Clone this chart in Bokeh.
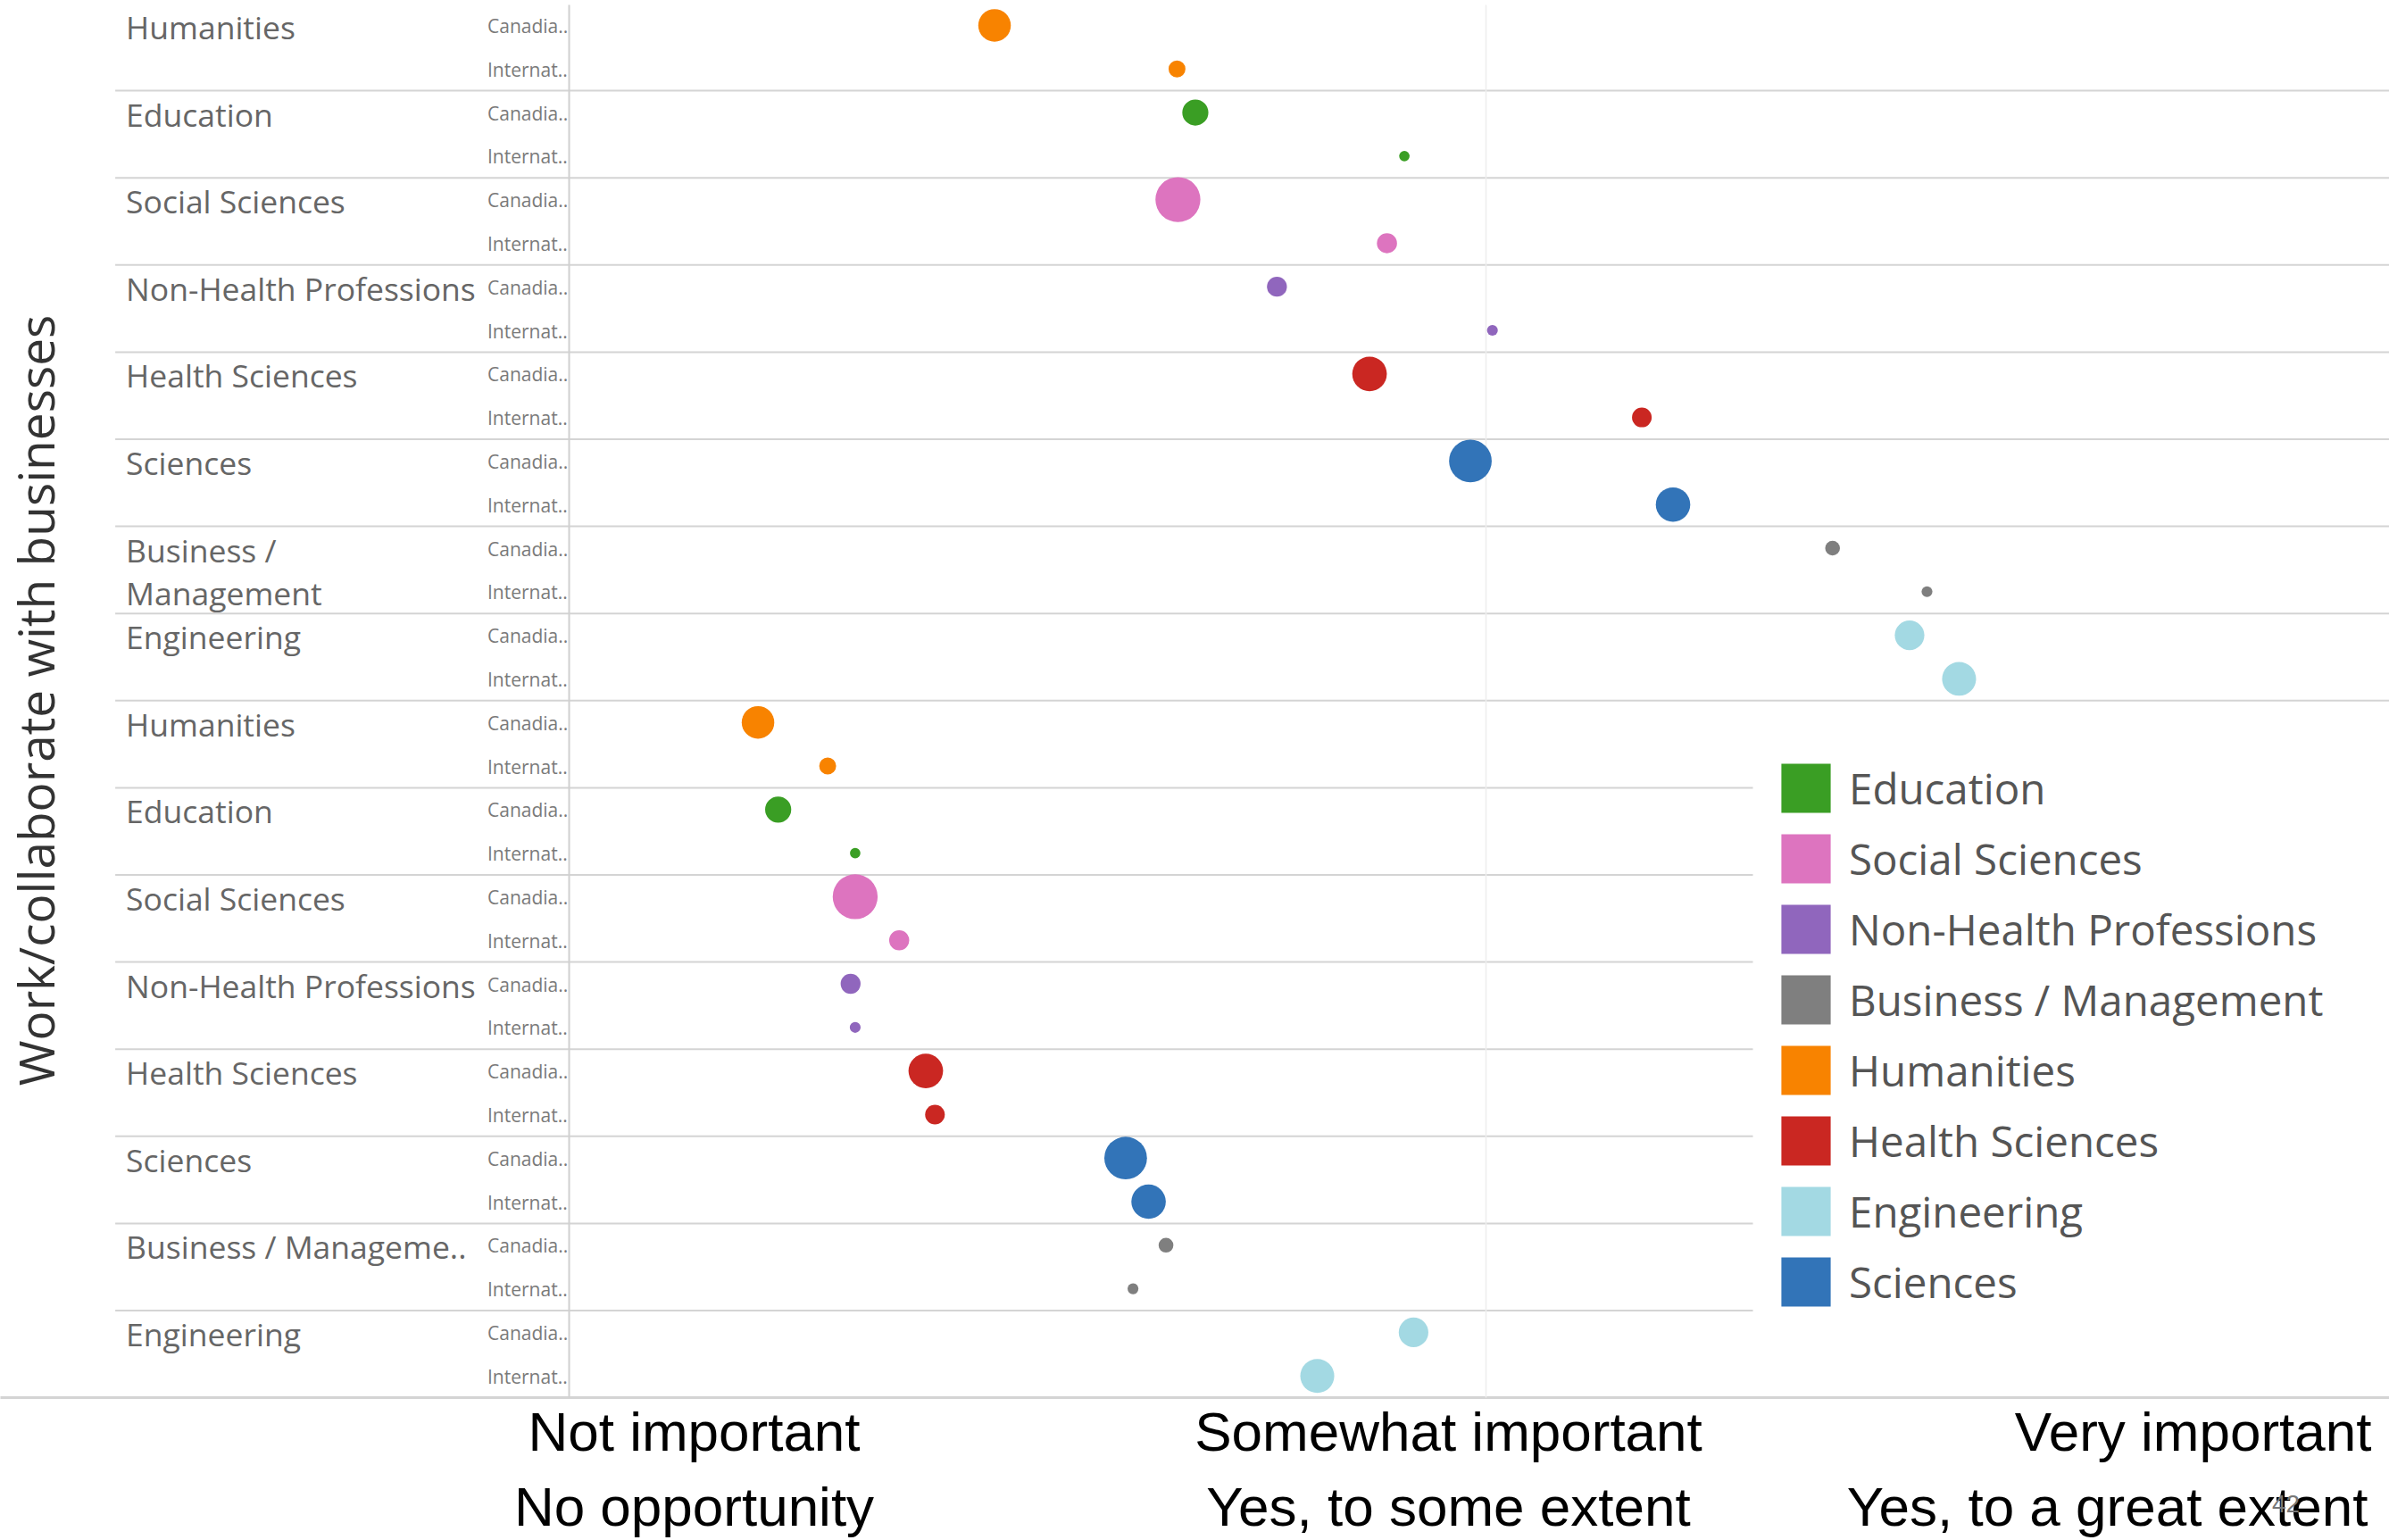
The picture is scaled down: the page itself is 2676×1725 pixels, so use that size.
import math
from bokeh.plotting import figure
from bokeh.models import Range1d, Legend, LegendItem, ColumnDataSource
from bokeh.core.properties import value
from bokeh.embed import file_html
from bokeh.resources import INLINE

# ---------------- data ----------------
fields = ["Humanities", "Education", "Social Sciences", "Non-Health Professions",
          "Health Sciences", "Sciences", "Business / Management", "Engineering"]
importance_labels = ["Humanities", "Education", "Social Sciences", "Non-Health Professions",
                     "Health Sciences", "Sciences", "Business /\nManagement", "Engineering"]
opportunity_labels = ["Humanities", "Education", "Social Sciences", "Non-Health Professions",
                      "Health Sciences", "Sciences", "Business / Manageme..", "Engineering"]
student_labels = ["Canadia..", "Internat.."]

importance_canadian = [1.464, 1.683, 1.664, 1.772, 1.873, 1.983, 2.378, 2.462]
importance_international = [1.663, 1.911, 1.892, 2.007, 2.170, 2.204, 2.481, 2.516]
opportunity_canadian = [1.206, 1.228, 1.312, 1.307, 1.389, 1.607, 1.651, 1.921]
opportunity_international = [1.282, 1.312, 1.360, 1.312, 1.399, 1.632, 1.615, 1.816]
respondents_canadian = [126, 81, 240, 47, 142, 216, 26, 104]
respondents_international = [34, 13, 48, 14, 46, 141, 14, 137]

legend_order = ["Education", "Social Sciences", "Non-Health Professions", "Business / Management",
                "Humanities", "Health Sciences", "Engineering", "Sciences"]
field_colors = {
    "Education": "#3a9e24",
    "Social Sciences": "#dd74bf",
    "Non-Health Professions": "#9066bd",
    "Business / Management": "#7f7f7f",
    "Humanities": "#f88300",
    "Health Sciences": "#ca2722",
    "Engineering": "#a3d9e3",
    "Sciences": "#3274b8",
}
x_labels_importance = ["Not important", "Somewhat important", "Very important"]
x_labels_opportunity = ["No opportunity", "Yes, to some extent", "Yes, to a great extent"]
y_title = "Work/collaborate with businesses"
page_number = "42"

# ---------------- layout helpers ----------------
W, H, OFF = 2676, 1725, 0
ROW_PX, TOP_PX = 48.8, 3.5
X_PX, X0_PX = 1027.0, 637.0


def xd(px):
    return 1 + (px - X0_PX) / X_PX


def yd(px):
    return (px - TOP_PX) / ROW_PX


p = figure(width=W, height=H, output_backend="svg", toolbar_location=None,
           x_range=Range1d(xd(OFF), xd(OFF + W)), y_range=Range1d(yd(OFF + H), yd(OFF)),
           x_axis_type=None, y_axis_type=None, min_border=0)
p.outline_line_color = None
p.grid.visible = False
p.background_fill_color = "white"
p.border_fill_color = "white"

# separators
sx0, sx1, sy = [], [], []
for g in range(1, 16):
    sx0.append(xd(128.6))
    sx1.append(xd(2700) if g <= 8 else xd(1963))
    sy.append(2 * g)
p.segment(x0=sx0, x1=sx1, y0=sy, y1=sy, line_color="#d4d4d4", line_width=2)
p.segment(x0=[xd(-10)], x1=[xd(2700)], y0=[32], y1=[32], line_color="#d4d4d4", line_width=3)
# axis line and gridline
p.segment(x0=[1.0], x1=[1.0], y0=[0.03], y1=[32], line_color="#d0d0d0", line_width=2)
p.segment(x0=[2.0], x1=[2.0], y0=[0.03], y1=[32], line_color="#ededed", line_width=1.5)

# bubbles
xs, ys, sizes, colors = [], [], [], []
blocks = [(importance_canadian, importance_international),
          (opportunity_canadian, opportunity_international)]
for b, (can, intl) in enumerate(blocks):
    for i, f in enumerate(fields):
        for j, (vals, counts) in enumerate(((can, respondents_canadian), (intl, respondents_international))):
            xs.append(vals[i])
            ys.append((b * 8 + i) * 2 + j + 0.5)
            sizes.append(3.25 * math.sqrt(counts[i]))
            colors.append(field_colors[f])
src = ColumnDataSource(dict(x=xs, y=ys, size=sizes, color=colors))
p.scatter(x="x", y="y", size="size", fill_color="color", line_color=None, marker="circle", source=src)

# row labels
lx, ly, lt = [], [], []
for b, labels in enumerate([importance_labels, opportunity_labels]):
    for i, lab in enumerate(labels):
        for k, line in enumerate(lab.split("\n")):
            lx.append(xd(140.6))
            ly.append((b * 8 + i) * 2 + k + 0.5 + 1.5 / ROW_PX)
            lt.append(line)
p.text(x=lx, y=ly, text=lt, text_font=value("Open Sans"), text_font_size="35.5px",
       text_color="#666666", text_align="left", text_baseline="middle")

sx, syl, st = [], [], []
for r in range(32):
    sx.append(xd(545.5))
    syl.append(r + 0.5 + 0.5 / ROW_PX)
    st.append(student_labels[r % 2])
p.text(x=sx, y=syl, text=st, text_font=value("Open Sans"), text_font_size="21px",
       text_color="#7a7a7a", text_align="left", text_baseline="middle")

# vertical title
p.text(x=[xd(39)], y=[yd(784)], text=[y_title], angle=math.pi / 2, text_font=value("Open Sans"),
       text_font_size="55px", text_color="#333333", text_align="center", text_baseline="middle")

# bottom category labels
label_font = dict(text_font=value("Liberation Sans"), text_font_size="62px", text_color="black",
                  text_baseline="middle")
p.text(x=[xd(777), xd(1622)], y=[yd(1603), yd(1603)], text=x_labels_importance[:2],
       text_align="center", **label_font)
p.text(x=[xd(2656)], y=[yd(1603)], text=x_labels_importance[2:], text_align="right", **label_font)
p.text(x=[xd(777), xd(1622)], y=[yd(1687), yd(1687)], text=x_labels_opportunity[:2],
       text_align="center", **label_font)
p.text(x=[xd(2652)], y=[yd(1687)], text=x_labels_opportunity[2:], text_align="right", **label_font)
p.text(x=[xd(2560)], y=[yd(1684)], text=[page_number], text_font=value("Liberation Sans"),
       text_font_size="28px", text_color="#777777", text_align="center", text_baseline="middle")

# legend (swatches drawn by zero-size rects anchored on the data)
leg_src = ColumnDataSource(dict(
    x=[importance_canadian[fields.index(f)] for f in legend_order],
    y=[fields.index(f) * 2 + 0.5 for f in legend_order],
    color=[field_colors[f] for f in legend_order],
))
swatch = p.rect(x="x", y="y", width=0, height=0, fill_color="color", line_color=None, source=leg_src)
items = [LegendItem(label=value(f), renderers=[swatch], index=k) for k, f in enumerate(legend_order)]
legend = Legend(items=items, location=(1988, 255), orientation="vertical",
                glyph_width=69, glyph_height=69, label_standoff=14, spacing=10,
                padding=25, margin=0, background_fill_color="white", background_fill_alpha=1.0,
                border_line_color=None, label_text_font="Open Sans", label_text_font_size="47.5px",
                label_text_color="#555555")
p.add_layout(legend)

open("out.html", "w").write(file_html(p, INLINE))
